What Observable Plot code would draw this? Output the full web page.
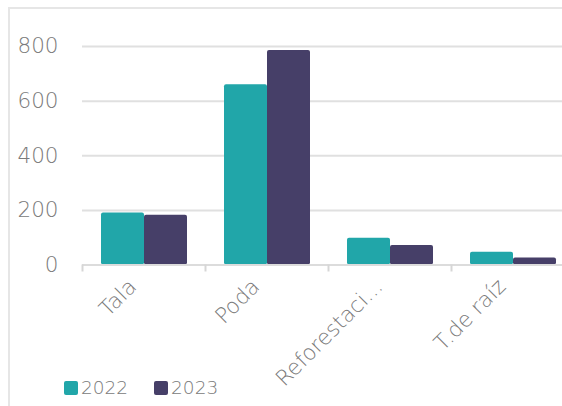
<!DOCTYPE html>
<html><head><meta charset="utf-8">
<script src="https://cdn.jsdelivr.net/npm/d3@7"></script>
<script src="https://cdn.jsdelivr.net/npm/@observablehq/plot@0.6"></script>
<style>
body{margin:0;overflow:hidden;background:#fff;font-family:"DejaVu Sans",sans-serif;}
#wrap{position:relative;width:562px;height:406px;overflow:hidden;}
#card{position:absolute;left:8px;top:7px;width:600px;height:420px;border-left:2px solid #e6e6e6;border-top:2px solid #e6e6e6;}
#chart{position:absolute;left:0;top:0;}
#legend{position:absolute;left:64px;top:377px;display:flex;align-items:center;font-size:18.5px;font-weight:200;color:#7a7a7a;}
.item{display:flex;align-items:center;margin-right:26px;}
.sw{width:14px;height:14px;border-radius:2px;margin-right:3px;}
</style>
</head><body>
<div id="wrap"><div id="card"></div><div id="chart"></div><div id="legend"></div></div>
<script>
const categories = ["Tala", "Poda", "Reforestación", "T.de raíz"];
const years = ["2022", "2023"];
const values2022 = [190, 660, 98, 47];
const values2023 = [182, 785, 71, 26];
const yTicks = [0, 200, 400, 600, 800];
const colors = ["#21a6a9", "#463f68"];

const data = [];
categories.forEach((c, i) => {
  data.push({cat: c, year: years[0], value: values2022[i]});
  data.push({cat: c, year: years[1], value: values2023[i]});
});

const fmt = s => s.length > 11 ? s.slice(0, 11) + "..." : s;

const chart = Plot.plot({
  width: 562,
  height: 372,
  marginLeft: 82,
  marginRight: -12,
  marginTop: 46,
  marginBottom: 107.5,
  style: {fontFamily: "'DejaVu Sans', sans-serif", color: "#7a7a7a", overflow: "visible"},
  fx: {domain: categories, padding: 0, label: null},
  x: {domain: years, paddingInner: 0, paddingOuter: 0.43, axis: null},
  y: {domain: [0, 800], label: null},
  color: {domain: years, range: colors},
  marks: [
    Plot.gridY({ticks: yTicks.slice(1), stroke: "#e0e0e0", strokeOpacity: 1, strokeWidth: 2}),
    Plot.axisY({ticks: yTicks, tickSize: 0, tickPadding: 24, fontSize: 21.5, fontWeight: 200, label: null}),
    Plot.barY(data, {fx: "cat", x: "year", y: "value", fill: "year", rx: 2, inset: 0}),
    Plot.ruleY([0], {stroke: "#dcdcdc", strokeWidth: 2}),
    Plot.axisFx({anchor: "bottom", tickSize: 0, tickPadding: 16, tickRotate: -45, fontSize: 21.5, fontWeight: 200, tickFormat: fmt, dx: -11, dy: 2, label: null}),
    Plot.axisFx({anchor: "bottom", tickSize: 7, tickFormat: () => "", dx: -61.5, stroke: "#d6d6d6", strokeWidth: 2, label: null})
  ]
});
document.getElementById("chart").appendChild(chart);

const legend = document.getElementById("legend");
years.forEach((y, i) => {
  const it = document.createElement("div");
  it.className = "item";
  it.innerHTML = `<span class="sw" style="background:${colors[i]}"></span><span>${y}</span>`;
  legend.appendChild(it);
});
</script>
</body></html>
